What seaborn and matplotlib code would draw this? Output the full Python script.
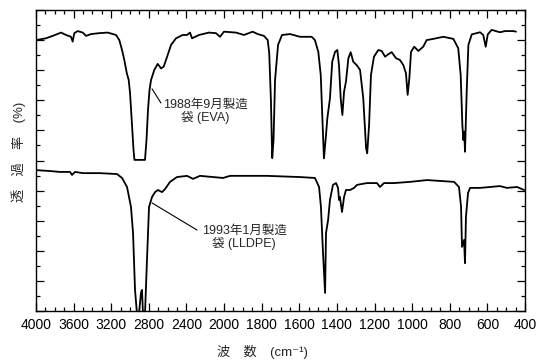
import numpy as np
import pandas as pd
import matplotlib
matplotlib.use("Agg")
import matplotlib.pyplot as plt
from matplotlib.ticker import FixedLocator, NullFormatter
import seaborn as sns

# ---------------- data ----------------
eva_wn = [4000, 3894, 3822, 3734, 3681, 3628, 3610, 3593, 3557, 3503, 3468, 3415, 3330, 3238,
          3149, 3114, 3085, 3061, 3035, 3014, 3000, 2979, 2963, 2953, 2841, 2825, 2809, 2793,
          2777, 2742, 2706, 2671, 2642, 2600, 2564, 2511, 2440, 2394, 2362, 2341, 2267, 2160,
          2086, 2043, 2001, 1937, 1894, 1848, 1821, 1788, 1768, 1760, 1751, 1744, 1737, 1729,
          1713, 1692, 1649, 1596, 1534, 1517, 1499, 1486, 1476, 1469, 1458, 1451, 1437, 1425,
          1410, 1398, 1389, 1380, 1371, 1362, 1352, 1339, 1327, 1313, 1295, 1277, 1260, 1245,
          1239, 1229, 1219, 1203, 1180, 1162, 1144, 1127, 1109, 1086, 1065, 1047, 1033, 1024,
          1015, 1006, 989, 967, 941, 923, 888, 834, 781, 755, 742, 733, 728, 723, 719, 710, 701,
          683, 639, 622, 609, 598, 577, 533, 506, 462, 448]
eva_t = [90.0, 90.6, 91.4, 92.5, 91.7, 91.1, 89.5, 92.3, 93.0, 92.5, 91.4, 92.0, 92.3, 92.5,
         91.7, 90.0, 86.7, 83.4, 79.1, 76.7, 72.4, 61.8, 53.5, 50.2, 50.2, 56.8, 66.8, 73.4,
         76.7, 80.1, 82.1, 80.6, 81.2, 85.0, 88.4, 90.6, 91.7, 91.7, 92.5, 90.6, 91.7, 92.5,
         92.3, 91.1, 92.8, 92.5, 91.7, 92.8, 92.0, 91.4, 90.0, 85.7, 70.1, 50.8, 56.8, 76.7,
         88.4, 91.7, 92.0, 91.1, 91.1, 90.0, 86.1, 78.4, 61.8, 50.7, 58.5, 64.0, 70.7, 82.8,
         86.1, 86.7, 81.7, 70.7, 65.1, 72.9, 76.2, 84.0, 86.0, 82.8, 81.7, 80.1, 70.7, 54.1,
         52.4, 61.8, 78.4, 84.5, 86.7, 86.4, 84.5, 85.3, 86.0, 84.0, 83.4, 81.7, 79.0, 71.8,
         77.3, 86.1, 87.8, 86.4, 87.8, 90.0, 90.4, 91.1, 90.4, 87.3, 78.4, 61.8, 56.8, 59.6,
         52.9, 72.9, 88.4, 91.9, 92.6, 91.7, 87.8, 91.9, 93.4, 92.6, 93.0, 93.0, 92.8]

lldpe_wn = [4000, 3851, 3745, 3638, 3617, 3585, 3500, 3319, 3139, 3085, 3032, 2990, 2968, 2947,
            2926, 2905, 2884, 2873, 2862, 2841, 2820, 2798, 2766, 2734, 2703, 2660, 2628, 2575,
            2501, 2394, 2330, 2256, 2011, 1968, 1772, 1596, 1517, 1495, 1485, 1474, 1463, 1458,
            1447, 1437, 1421, 1405, 1394, 1389, 1384, 1373, 1362, 1352, 1330, 1309, 1293, 1240,
            1187, 1171, 1150, 1097, 1011, 921, 777, 751, 740, 735, 724, 719, 714, 703, 692, 639,
            586, 533, 496, 442, 405]
lldpe_t = [46.8, 46.5, 46.2, 46.2, 45.2, 46.2, 45.8, 45.8, 45.5, 44.2, 41.2, 34.6, 25.9, 7.0,
           -1.0, -1.0, 6.0, 7.0, -1.0, -1.0, 16.9, 34.6, 37.9, 39.5, 40.2, 39.5, 40.5, 42.9,
           44.5, 44.9, 43.9, 44.9, 44.2, 44.9, 44.9, 44.5, 44.2, 41.2, 34.6, 19.3, 6.0, 25.9,
           30.2, 36.9, 41.9, 42.5, 40.9, 36.9, 37.9, 32.9, 37.9, 40.2, 40.2, 40.9, 41.9, 42.5,
           42.5, 41.2, 42.5, 42.5, 42.9, 43.5, 42.9, 41.2, 34.6, 21.3, 23.6, 15.9, 31.2, 39.2,
           40.9, 40.9, 41.2, 41.5, 40.9, 41.2, 40.2]

series_names = ["EVA", "LLDPE"]
x_ticks = [4000, 3600, 3200, 2800, 2400, 2000, 1800, 1600, 1400, 1200, 1000, 800, 600, 400]
x_tick_labels = [str(v) for v in x_ticks]
label_eva = "1988年9月製造\n袋 (EVA)"
label_lldpe = "1993年1月製造\n袋 (LLDPE)"
xlabel_text = "波\u3000数\u3000(cm\u207b\u00b9)"
ylabel_text = "透\u3000過\u3000率\u3000(%)"

# ---------------- style ----------------
sns.set_theme(style="ticks")
fam = ["Liberation Sans", "Noto Sans CJK JP", "DejaVu Sans"]
plt.rcParams["font.family"] = fam
plt.rcParams["axes.unicode_minus"] = False

df = pd.concat([
    pd.DataFrame({"wn": eva_wn, "T": eva_t, "s": series_names[0]}),
    pd.DataFrame({"wn": lldpe_wn, "T": lldpe_t, "s": series_names[1]}),
])

fig = plt.figure(figsize=(5.37, 3.64), dpi=100)
ax = fig.add_axes([36 / 537, 53 / 364, 489 / 537, 301 / 364])

def fwd(w):
    w = np.asarray(w, dtype=float)
    return np.where(w >= 2000, (w - 2000) / 400.0, (w - 2000) / 200.0)

def inv(t):
    t = np.asarray(t, dtype=float)
    return np.where(t >= 0, 2000 + 400.0 * t, 2000 + 200.0 * t)

ax.set_xscale("function", functions=(fwd, inv))

for name in series_names:
    sub = df[df["s"] == name]
    sns.lineplot(data=sub, x="wn", y="T", ax=ax, color="black", lw=1.3,
                 sort=False, estimator=None, legend=False)

ax.set_xlim(4000, 400)
ax.set_ylim(0, 100)

ax.xaxis.set_major_locator(FixedLocator(x_ticks))
ax.set_xticklabels(x_tick_labels)
minor_x = [v for v in list(range(4000, 2000, -100)) + list(range(2000, 399, -50)) if v not in x_ticks]
ax.xaxis.set_minor_locator(FixedLocator(minor_x))
ax.yaxis.set_major_locator(FixedLocator(np.arange(0, 101, 10)))
ax.yaxis.set_minor_locator(FixedLocator(np.arange(5, 100, 10)))
ax.yaxis.set_major_formatter(NullFormatter())

ax.tick_params(which="both", direction="in", top=True, right=True, colors="black",
               labelleft=False, labelright=False)
ax.tick_params(which="major", length=5.5, width=0.9)
ax.tick_params(which="minor", length=3, width=0.9)
ax.tick_params(axis="x", which="major", labelsize=10, pad=5)
for sp in ax.spines.values():
    sp.set_color("black")
    sp.set_linewidth(1.0)

ax.set_xlabel(xlabel_text, fontsize=9.5, family=fam)
ax.set_ylabel(ylabel_text, fontsize=9.5, family=fam)
ax.xaxis.set_label_coords((262 - 36) / 489, -(345 - 311) / 301)
ax.yaxis.set_label_coords(-(36 - 26) / 489, (311 - 152) / 301)

# leader lines and labels
ax.annotate("", xy=(2766, 73.8), xytext=(2671, 69.1),
            arrowprops=dict(arrowstyle="-", color="black", lw=0.8, shrinkA=0, shrinkB=0))
ax.text(2203, 66.4, label_eva, ha="center", va="center", multialignment="center",
        fontsize=9, family=fam, linespacing=1.0)
ax.annotate("", xy=(2766, 35.9), xytext=(2288, 26.9),
            arrowprops=dict(arrowstyle="-", color="black", lw=0.8, shrinkA=0, shrinkB=0))
ax.text(1894, 24.3, label_lldpe, ha="center", va="center", multialignment="center",
        fontsize=9, family=fam, linespacing=1.0)

fig.savefig("out.png", dpi=100)
